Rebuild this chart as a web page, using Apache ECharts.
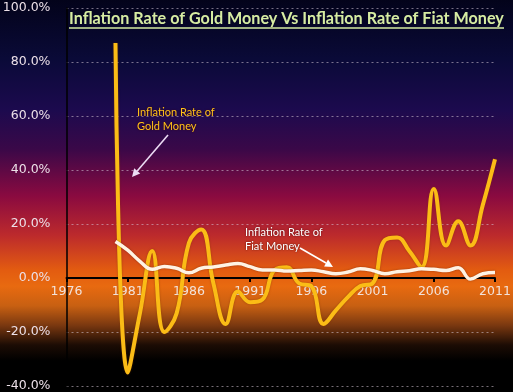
<!DOCTYPE html>
<html>
<head>
<meta charset="utf-8">
<script src="https://cdn.jsdelivr.net/npm/echarts@6/dist/echarts.min.js"></script>
<style>
html,body{margin:0;padding:0;background:#000;}
#c{width:513px;height:392px;
background:linear-gradient(to bottom,#03031a 0%,#0a0a38 15%,#1c0a4e 28%,#3a0848 38%,#8a0a40 50%,#bc2a2c 60%,#e35c10 69%,#e86a10 73%,#c86012 78%,#7a3810 83%,#1c0c04 88%,#000 92%,#000 100%);}
</style>
</head>
<body>
<div id="c"></div>
<script>
var years = [];
for (var y = 1976; y <= 2011; y++) years.push(String(y));

var goldInflation = [null, null, null, null,
  87, -35, -13, 10, -20, -13, 13, 18, -2, -17,
  -5, -9, -8, 3, 4, -2, -3, -17, -12, -7,
  -3, -2, 14, 15, 10, 4, 33, 12, 21, 12,
  27, 44];

var fiatInflation = [null, null, null, null,
  13.5, 10.3, 6.2, 3.2, 4.3, 3.6, 1.9, 3.6, 4.1, 4.8,
  5.4, 4.2, 3.0, 3.0, 2.6, 2.8, 3.0, 2.3, 1.6, 2.2,
  3.4, 2.8, 1.6, 2.3, 2.7, 3.4, 3.2, 2.8, 3.8, -0.4,
  1.6, 2.0];

var yMin = -40, yMax = 100, yStep = 20;

var titleText = 'Inflation Rate of Gold Money Vs Inflation Rate of Fiat Money';
var goldLabel = ['Inflation Rate of', 'Gold Money'];
var fiatLabel = ['Inflation Rate of', 'Fiat Money'];

var cv = document.createElement('canvas').getContext('2d');
var titleFont = 'Lato';
cv.font = 'bold 100px ' + titleFont;
var w100 = cv.measureText(titleText).width;
var tfs = 100 * 435 / w100;
var titleLeft = 69, titleTop = 11;

var gridTop = 8, gridBottom = 6, H = 392;
var plotH = H - gridTop - gridBottom;
var zeroOffset = plotH * (0 - yMin) / (yMax - yMin);

function arrow(x1, y1, x2, y2, color) {
  var ang = Math.atan2(y2 - y1, x2 - x1);
  var L = 8, W = 4;
  var bx = x2 - L * Math.cos(ang), by = y2 - L * Math.sin(ang);
  var px = -Math.sin(ang) * W, py = Math.cos(ang) * W;
  return [
    {type: 'line', shape: {x1: x1, y1: y1, x2: bx, y2: by}, style: {stroke: color, lineWidth: 1.6}, z: 100},
    {type: 'polygon', shape: {points: [[x2, y2], [bx + px, by + py], [bx - px, by - py]]}, style: {fill: color}, z: 100}
  ];
}

var chart = echarts.init(document.getElementById('c'), null, {renderer: 'canvas'});
var graphics = [
  {type: 'text', left: titleLeft, top: titleTop, z: 100,
   style: {text: titleText, fill: '#d6eca2', font: 'bold ' + tfs.toFixed(2) + 'px ' + titleFont,
     shadowColor: 'rgba(0,0,0,0.6)', shadowBlur: 2}},
  {type: 'line', z: 100, shape: {x1: titleLeft, y1: 28, x2: titleLeft + 435, y2: 28},
   style: {stroke: '#d6eca2', lineWidth: 1.4}},
  {type: 'text', left: 137, top: 105, z: 100,
   style: {text: goldLabel.join('\n'), fill: '#ffc21a', font: '11px Lato', lineHeight: 14,
     textShadowColor: 'rgba(60,0,0,0.8)', textShadowBlur: 2}},
  {type: 'text', left: 245, top: 225, z: 100,
   style: {text: fiatLabel.join('\n'), fill: '#ffffff', font: '11px Lato', lineHeight: 14,
     textShadowColor: 'rgba(60,0,0,0.8)', textShadowBlur: 2}}
].concat(arrow(168, 135, 132, 177, '#ecdcf4')).concat(arrow(300, 248, 333, 267, '#ffffff'));

chart.setOption({
  backgroundColor: 'transparent',
  animation: false,
  grid: {left: 66.5, right: 18, top: gridTop, bottom: gridBottom, containLabel: false, outerBoundsMode: 'none'},
  xAxis: {
    type: 'category',
    data: years,
    boundaryGap: false,
    offset: -zeroOffset,
    axisLine: {onZero: false, lineStyle: {color: '#000', width: 2}},
    axisTick: {show: true, interval: 4, length: 4, inside: false, lineStyle: {color: '#000', width: 2}},
    axisLabel: {interval: 4, color: '#f2e2da', fontFamily: 'DejaVu Sans', fontSize: 12.5, margin: 7},
    splitLine: {show: false}
  },
  yAxis: {
    type: 'value',
    min: yMin, max: yMax, interval: yStep,
    axisLine: {show: true, onZero: false, lineStyle: {color: '#000', width: 1.5}},
    axisTick: {show: false},
    axisLabel: {color: '#ece0e8', fontFamily: 'DejaVu Sans', fontSize: 12.5, margin: 16,
      formatter: function (v) { return v.toFixed(1) + '%'; }},
    splitLine: {show: true, lineStyle: {color: 'rgba(215,200,215,0.55)', type: [2, 3], width: 1}}
  },
  series: [
    {name: 'Inflation Rate of Gold Money', type: 'line', data: goldInflation, smooth: 0.45,
     showSymbol: false,
     lineStyle: {color: '#fbbc16', width: 4, shadowColor: 'rgba(120,50,0,0.6)', shadowBlur: 2}, z: 3},
    {name: 'Inflation Rate of Fiat Money', type: 'line', data: fiatInflation, smooth: 0.45,
     showSymbol: false,
     lineStyle: {color: '#fff3e4', width: 3.5, shadowColor: 'rgba(80,20,0,0.5)', shadowBlur: 2}, z: 4}
  ],
  graphic: graphics
});
</script>
</body>
</html>
